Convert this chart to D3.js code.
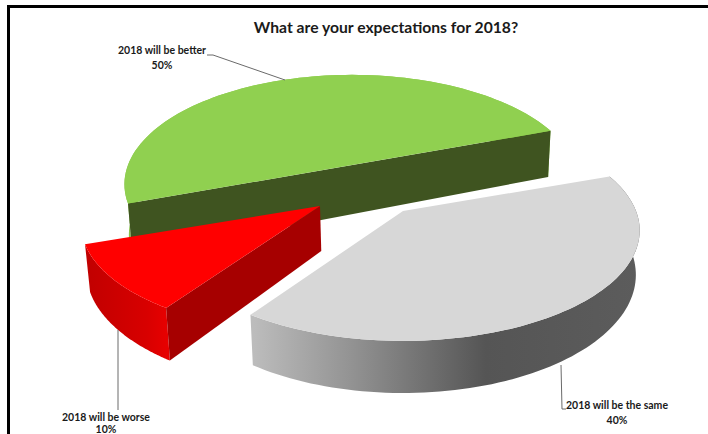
<!DOCTYPE html>
<html>
<head>
<meta charset="utf-8">
<script src="https://cdn.jsdelivr.net/npm/d3@7"></script>
<style>
html,body{margin:0;padding:0;background:#fff}
svg{display:block}
text{font-family:Lato,"Open Sans",sans-serif;font-weight:700;fill:#1a1a1a}
</style>
</head>
<body>
<svg id="chart" width="708" height="434"></svg>
<script>
// Survey answers, in clockwise pie order
const categories = ["2018 will be the same", "2018 will be worse", "2018 will be better"];
const shares = [40, 10, 50];
const chartTitle = "What are your expectations for 2018?";

// Slice appearance and its pulled-out position on the page
const topColors = ["#d7d7d7", "#ff0000", "#90d050"];
const sliceCentres = [[403, 211], [320, 206], [352, 165]];
const radiiX = [233, 235, 224];
const radiiY = [107, 105, 106];
const depths = [43, 45, 49];
const perspective = 0.176;
const vanishX = 400;
const taper = 0.016;

const svg = d3.select("#chart");
const defs = svg.append("defs");

function hGradient(id, x1, x2, stops) {
  const g = defs.append("linearGradient").attr("id", id)
    .attr("gradientUnits", "userSpaceOnUse")
    .attr("x1", x1).attr("x2", x2).attr("y1", 0).attr("y2", 0);
  stops.forEach(([o, c]) => g.append("stop").attr("offset", o).attr("stop-color", c));
}
hGradient("wallGray", 254, 640, [[0, "#bcbcbc"], [0.25, "#939393"], [0.6, "#555555"], [1, "#5c5c5c"]]);
hGradient("wallRed", 90, 166, [[0, "#c20000"], [0.75, "#d80000"], [1, "#e60000"]]);
hGradient("wallGreen", 124, 132, [[0, "#7fb545"], [1, "#8cc84c"]]);

// Pie angles start 70 degrees clockwise from twelve o'clock
const pie = d3.pie().sort(null).startAngle(70 * Math.PI / 180).endAngle((70 + 360) * Math.PI / 180);
const arcs = pie(shares);
const line = d3.line();

// Projects a point of the tilted disc onto the page, with near parts drawn larger
function project(i, angle, r, lower) {
  const theta = angle - Math.PI / 2;
  const u = r * Math.cos(theta), v = r * Math.sin(theta);
  const w = 1 - perspective * v;
  const [cx, cy] = sliceCentres[i];
  let x = cx + radiiX[i] * u / w;
  let y = cy + radiiY[i] * v / w;
  if (lower) {
    y += depths[i] / w;
    x += (vanishX - x) * taper;
  }
  return [x, y];
}
function rim(i, a0, a1, lower) {
  const n = 90;
  return d3.range(n + 1).map(k => project(i, a0 + (a1 - a0) * k / n, 1, lower));
}
function topFace(i) {
  const d = arcs[i];
  return line([project(i, 0, 0, false), ...rim(i, d.startAngle, d.endAngle, false)]) + "Z";
}
// The curved side is a strip of small quads, so its silhouette follows the swept rim
function wall(i) {
  const d = arcs[i];
  const up = rim(i, d.startAngle, d.endAngle, false);
  const low = rim(i, d.startAngle, d.endAngle, true);
  return d3.range(up.length - 1)
    .map(k => line([up[k], up[k + 1], low[k + 1], low[k]]) + "Z").join("");
}
function cutFace(i, angle) {
  return line([project(i, 0, 0, false), project(i, angle, 1, false), project(i, angle, 1, true), project(i, 0, 0, true)]) + "Z";
}

const [SAME, WORSE, BETTER] = [0, 1, 2];

// Green half: back slice, drawn first
svg.append("path").attr("d", wall(BETTER)).attr("fill", "url(#wallGreen)");
svg.append("path")
  .attr("d", line([project(BETTER, arcs[BETTER].startAngle, 1, false), project(BETTER, arcs[BETTER].endAngle, 1, false),
                   project(BETTER, arcs[BETTER].endAngle, 1, true), project(BETTER, arcs[BETTER].startAngle, 1, true)]) + "Z")
  .attr("fill", "#3f5420");
svg.append("path").attr("d", topFace(BETTER)).attr("fill", topColors[BETTER]);

// Grey slice
svg.append("path").attr("d", wall(SAME)).attr("fill", "url(#wallGray)");
svg.append("path").attr("d", topFace(SAME)).attr("fill", topColors[SAME]);

// Red slice
svg.append("path").attr("d", wall(WORSE)).attr("fill", "url(#wallRed)");
svg.append("path").attr("d", cutFace(WORSE, arcs[WORSE].startAngle)).attr("fill", "#a60000");
svg.append("path").attr("d", topFace(WORSE)).attr("fill", topColors[WORSE]);

// Leader lines
const leaders = [
  [[561, 365], [562, 409], [566, 409]],
  [[118, 330], [118, 410]],
  [[207, 55], [213, 55], [285, 80]]
];
leaders.forEach(p => svg.append("path").attr("d", line(p))
  .attr("fill", "none").attr("stroke", "#6a6a6a").attr("stroke-width", 1));

// Slice labels: name above its share
const labelSpots = [[617, 409, 424], [106, 420.5, 433], [162, 54, 69]];
categories.forEach((name, i) => {
  const [x, y1, y2] = labelSpots[i];
  svg.append("text").attr("x", x).attr("y", y1).attr("text-anchor", "middle").attr("font-size", 10.5).text(name);
  svg.append("text").attr("x", x).attr("y", y2).attr("text-anchor", "middle").attr("font-size", 10.5).text(shares[i] + "%");
});

svg.append("text").attr("x", 386).attr("y", 33).attr("text-anchor", "middle")
  .attr("font-size", 15.7).attr("fill", "#111").text(chartTitle);

// Page frame along the top and left
svg.append("path").attr("d", line([[8.5, 434], [8.5, 6.5], [708, 6.5]]))
  .attr("fill", "none").attr("stroke", "#000").attr("stroke-width", 3);
</script>
</body>
</html>
